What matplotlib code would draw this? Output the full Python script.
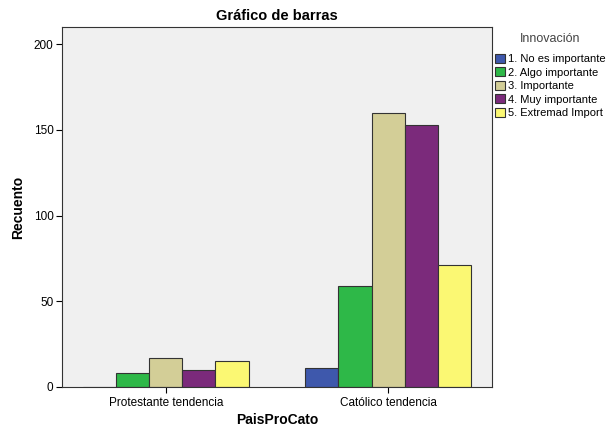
import matplotlib
matplotlib.use("Agg")
import matplotlib.pyplot as plt
import numpy as np

plt.rcParams['font.family'] = ['Liberation Sans', 'DejaVu Sans']

# ── Data ──────────────────────────────────────────────────────────────────────
groups = ["Protestante tendencia", "Católico tendencia"]
series = ["1. No es importante", "2. Algo importante", "3. Importante",
          "4. Muy importante", "5. Extremad Import"]
counts = [
    [0, 11],     # No es importante
    [8, 59],     # Algo importante
    [17, 160],   # Importante
    [10, 153],   # Muy importante
    [15, 71],    # Extremad Import
]
colors = ["#3e58ac", "#2eb848", "#d3ce97", "#7b2a7b", "#fbf873"]

# ── Figure ────────────────────────────────────────────────────────────────────
fig = plt.figure(figsize=(6.06, 4.28), dpi=100)
ax = fig.add_axes([0.102, 0.096, 0.710, 0.841])
ax.set_facecolor("#f0f0f0")

x = np.arange(len(groups))
w = 0.149
for i, (name, vals) in enumerate(zip(series, counts)):
    offs = (i - 2) * w
    vals = np.array(vals, dtype=float)
    ax.bar(x + offs, vals, width=w, color=colors[i], edgecolor="#333333",
           linewidth=0.8, label=name, zorder=2)

ax.set_xlim(-0.468, 1.468)
ax.set_ylim(0, 210)
ax.set_yticks([0, 50, 100, 150, 200])
ax.set_xticks(x)
ax.set_xticklabels(groups, fontsize=8.5)
ax.tick_params(axis="y", labelsize=8.5, direction="out", length=4, pad=2)
ax.tick_params(axis="x", direction="out", length=4, pad=3)
for s in ax.spines.values():
    s.set_color("#333333")
    s.set_linewidth(0.8)

ax.set_title("Gráfico de barras", fontsize=10.5, fontweight="bold", pad=5)
ax.set_xlabel("PaisProCato", fontsize=10, fontweight="bold", labelpad=3.5)
ax.set_ylabel("Recuento", fontsize=10, fontweight="bold", labelpad=6)

leg = ax.legend(title="Innovación", loc="upper left", bbox_to_anchor=(0.998, 0.992),
                frameon=False, fontsize=8, title_fontsize=9,
                handlelength=0.9, handleheight=0.9, handletextpad=0.3,
                labelspacing=0.28, borderaxespad=0.1, borderpad=0.2)
leg.get_title().set_color("#444444")
leg._legend_box.sep = 6

plt.savefig("out.png", dpi=100)
